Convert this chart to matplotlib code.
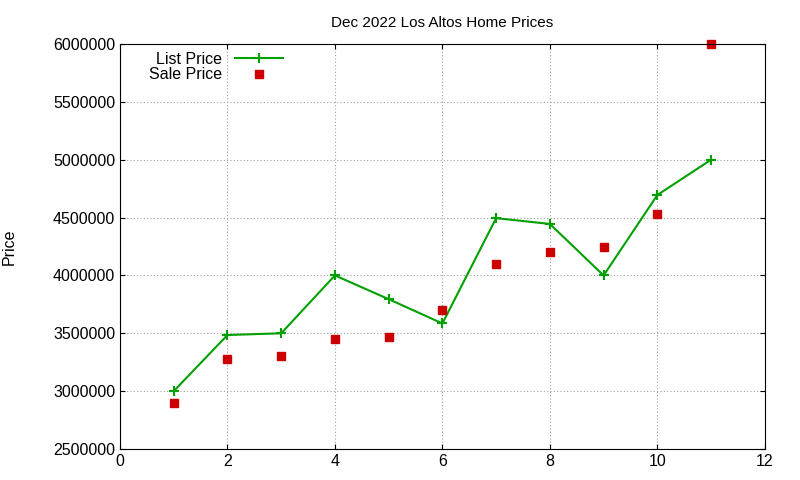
import matplotlib
matplotlib.use("Agg")
import matplotlib.pyplot as plt

plt.rcParams['font.family'] = ['Liberation Sans', 'DejaVu Sans']

months = [1, 2, 3, 4, 5, 6, 7, 8, 9, 10, 11]
list_price = [3000000, 3485000, 3500000, 4000000, 3795000, 3585000, 4495000, 4445000, 4000000, 4695000, 5000000]
sale_price = [2897000, 3278000, 3300000, 3450000, 3470000, 3701000, 4099000, 4200000, 4250000, 4535000, 6000000]

fig = plt.figure(figsize=(8, 4.8), dpi=100)
ax = fig.add_axes([0.15, 0.0646, 0.806, 0.8437])
ax.plot(months, list_price, color='#00a000', marker='+', markersize=7, mew=1.5, lw=1.5, label='List Price')
ax.plot(months, sale_price, color='#cc0000', marker='s', markersize=6, lw=0, label='Sale Price', clip_on=False)
ax.set_xlim(0, 12)
ax.set_ylim(2500000, 6000000)
ax.set_xticks(range(0, 13, 2))
ax.set_yticks(range(2500000, 6000001, 500000))
ax.ticklabel_format(style='plain', axis='y', useOffset=False)
ax.grid(True, color='#a0a0a0', linestyle=(0, (1, 2)), lw=0.8)
ax.tick_params(direction='in', labelsize=11.5, top=True, right=True)
ax.set_title('Dec 2022 Los Altos Home Prices', fontsize=11, pad=12)
ax.set_ylabel('Price', fontsize=11.5, labelpad=26)
ax.legend(loc='upper left', bbox_to_anchor=(0.03, 1.005), frameon=False, markerfirst=False, fontsize=11.5,
          handlelength=3, borderaxespad=0.2, labelspacing=0.05)
fig.savefig('out.png')
